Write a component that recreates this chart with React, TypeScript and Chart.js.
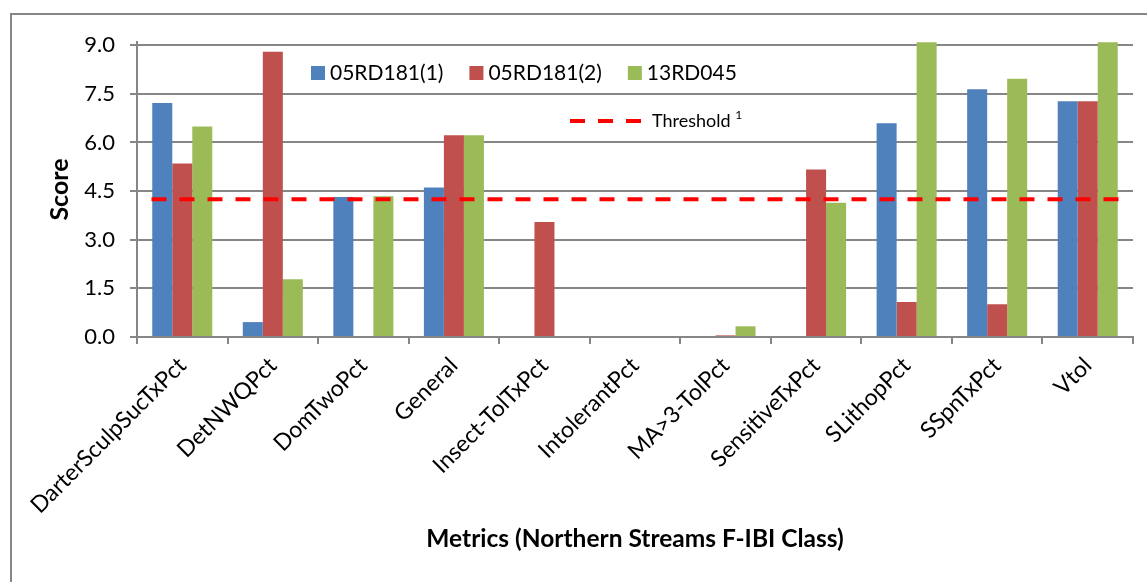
import React, { useEffect, useRef } from "react";
import { Chart, registerables } from "chart.js";

Chart.register(...registerables);

const categories = [
  "DarterSculpSucTxPct",
  "DetNWQPct",
  "DomTwoPct",
  "General",
  "Insect-TolTxPct",
  "IntolerantPct",
  "MA>3-TolPct",
  "SensitiveTxPct",
  "SLithopPct",
  "SSpnTxPct",
  "Vtol",
];

const series1Name = "05RD181(1)";
const series1 = [7.22, 0.46, 4.32, 4.61, 0, 0, 0, 0, 6.59, 7.64, 7.27];
const series2Name = "05RD181(2)";
const series2 = [5.35, 8.8, 0, 6.22, 3.55, 0, 0.05, 5.17, 1.08, 1.01, 7.27];
const series3Name = "13RD045";
const series3 = [6.49, 1.78, 4.34, 6.22, 0, 0, 0.33, 4.14, 9.09, 7.97, 9.09];

const thresholdName = "Threshold";
const thresholdValue = 4.25;
const thresholdSpan = [-0.34, 10.34];

const yTickValues = [0, 1.5, 3, 4.5, 6, 7.5, 9];
const yMax = 9.1;

const xTitle = "Metrics (Northern Streams F-IBI Class)";
const yTitle = "Score";

const BLUE = "#4F81BD";
const RED = "#C0504D";
const GREEN = "#9BBB59";
const GRID = "#868686";
const FONT = "Lato";

const toPoints = (vals: number[]) => vals.map((y, i) => ({ x: i, y }));

const decorPlugin = {
  id: "decor",
  beforeDraw(chart: any) {
    const ctx = chart.ctx;
    ctx.save();
    ctx.fillStyle = "#ffffff";
    ctx.fillRect(0, 0, chart.width, chart.height);
    ctx.strokeStyle = GRID;
    ctx.lineWidth = 2;
    ctx.beginPath();
    ctx.moveTo(11, chart.height);
    ctx.lineTo(11, 14);
    ctx.lineTo(chart.width, 14);
    ctx.stroke();
    ctx.restore();
  },
  afterDraw(chart: any) {
    const ctx = chart.ctx;
    ctx.save();
    const items = [
      { name: series1Name, color: BLUE },
      { name: series2Name, color: RED },
      { name: series3Name, color: GREEN },
    ];
    ctx.font = `21px ${FONT}`;
    ctx.textBaseline = "middle";
    ctx.textAlign = "left";
    let x = 311;
    const cy = 73;
    for (const it of items) {
      ctx.fillStyle = it.color;
      ctx.fillRect(x, cy - 7, 14, 14);
      ctx.fillStyle = "#000";
      ctx.fillText(it.name, x + 19, cy);
      x += 19 + ctx.measureText(it.name).width + 26;
    }
    const ty = 121;
    ctx.strokeStyle = "#FF0000";
    ctx.lineWidth = 4;
    ctx.setLineDash([15, 13]);
    ctx.beginPath();
    ctx.moveTo(570, ty);
    ctx.lineTo(642, ty);
    ctx.stroke();
    ctx.setLineDash([]);
    ctx.fillStyle = "#000";
    ctx.font = `18px ${FONT}`;
    ctx.fillText(thresholdName, 652, ty);
    const w = ctx.measureText(thresholdName + " ").width;
    ctx.font = `12px ${FONT}`;
    ctx.fillText("1", 652 + w, ty - 6);
    ctx.restore();
  },
};

export default function App() {
  const ref = useRef<HTMLCanvasElement>(null);

  useEffect(() => {
    const canvas = ref.current!;
    const H = 582;
    const padLeft = 12;
    const padTop = 42;
    const padRight = 14;
    const axisLeft = 137;
    const axisBottom = 337;

    const barDefaults = {
      xAxisID: "xL",
      yAxisID: "y",
      order: 1,
      categoryPercentage: 0.663,
      barPercentage: 1.0,
      borderWidth: 0,
    };

    const chart = new Chart(canvas, {
      type: "bar",
      data: {
        labels: categories,
        datasets: [
          {
            type: "line",
            label: thresholdName,
            data: thresholdSpan.map((x) => ({ x, y: thresholdValue })),
            xAxisID: "xL",
            yAxisID: "y",
            borderColor: "#FF0000",
            borderWidth: 4,
            borderDash: [15, 13],
            pointRadius: 0,
            fill: false,
            order: 0,
          } as any,
          { ...barDefaults, label: series1Name, data: toPoints(series1), backgroundColor: BLUE },
          { ...barDefaults, label: series2Name, data: toPoints(series2), backgroundColor: RED },
          { ...barDefaults, label: series3Name, data: toPoints(series3), backgroundColor: GREEN },
        ],
      },
      options: {
        responsive: false,
        animation: false,
        devicePixelRatio: 1,
        layout: {
          padding: { left: padLeft, top: padTop, right: padRight, bottom: 0 },
        },
        plugins: {
          legend: { display: false },
          tooltip: { enabled: false },
        },
        scales: {
          x: {
            type: "category",
            offset: true,
            grid: {
              offset: true,
              drawOnChartArea: false,
              drawTicks: true,
              tickLength: 7,
              color: GRID,
              lineWidth: 2,
            },
            border: { color: GRID, width: 2 },
            ticks: {
              autoSkip: false,
              minRotation: 45,
              maxRotation: 45,
              padding: 8,
              color: "#000",
              font: { family: FONT, size: 23 },
            },
            title: {
              display: true,
              text: xTitle,
              color: "#000",
              font: { family: FONT, size: 24.5, weight: "bold" },
              padding: { top: 0, bottom: 28 },
            },
            afterFit: (s: any) => {
              s.height = H - axisBottom;
            },
          },
          xL: {
            type: "linear",
            display: false,
            offset: false,
            grid: { offset: false },
            min: -0.5,
            max: categories.length - 0.5,
            afterBuildTicks: (s: any) => {
              s.ticks = categories.map((_, i) => ({ value: i }));
            },
          },
          y: {
            type: "linear",
            min: 0,
            max: yMax,
            grid: {
              color: GRID,
              lineWidth: 2,
              drawTicks: true,
              tickLength: 7,
            },
            border: { color: GRID, width: 2 },
            ticks: {
              padding: 15,
              color: "#000",
              font: { family: FONT, size: 22 },
              callback: (v: any) => Number(v).toFixed(1),
            },
            afterBuildTicks: (s: any) => {
              s.ticks = yTickValues.map((v) => ({ value: v }));
            },
            title: {
              display: true,
              text: yTitle,
              color: "#000",
              font: { family: FONT, size: 25, weight: "bold" },
              padding: { top: 33, bottom: 0 },
            },
            afterFit: (s: any) => {
              s.width = axisLeft - padLeft;
            },
          },
        },
      },
      plugins: [decorPlugin],
    } as any);

    return () => chart.destroy();
  }, []);

  return (
    <div
      style={{
        position: "fixed",
        left: 0,
        top: 0,
        width: 1147,
        height: 582,
        background: "#fff",
      }}
    >
      <canvas
        ref={ref}
        width={1147}
        height={582}
        style={{ width: 1147, height: 582, display: "block" }}
      />
    </div>
  );
}
